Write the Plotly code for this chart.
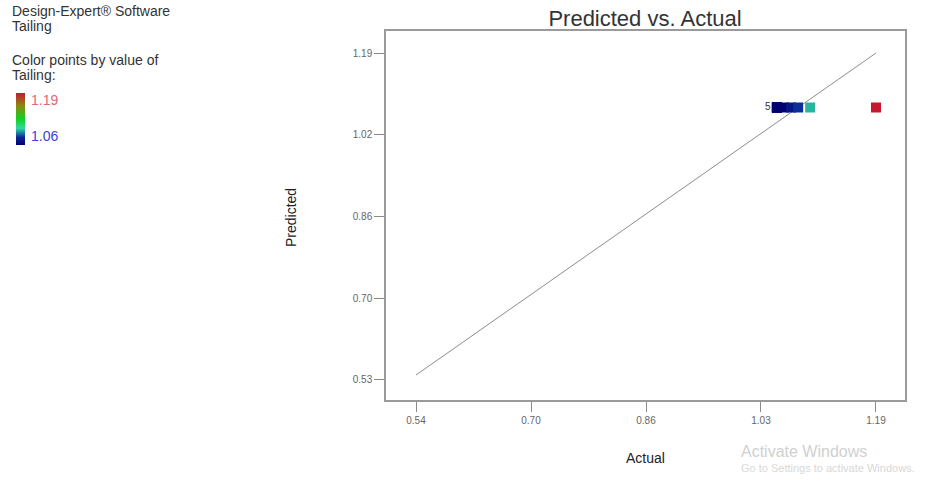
import plotly.graph_objects as go

# Observed vs. model-predicted Tailing
actual = [1.05, 1.05, 1.05, 1.05, 1.05, 1.06, 1.07, 1.08, 1.097, 1.19]
predicted = [1.08, 1.08, 1.08, 1.08, 1.08, 1.08, 1.08, 1.08, 1.08, 1.08]
replicate_count = "5"

x_tick_vals = [0.54, 0.7025, 0.865, 1.0275, 1.19]
x_tick_text = ["0.54", "0.70", "0.86", "1.03", "1.19"]
y_tick_vals = [0.53, 0.695, 0.86, 1.025, 1.19]
y_tick_text = ["0.53", "0.70", "0.86", "1.02", "1.19"]
diag = [0.54, 1.19]
color_min, color_max = 1.06, 1.19

W, H = 929, 481
L, R, T, B = 386, 24, 31, 81
plot_w = W - L - R
plot_h = H - T - B

scale = [
    [0.0, "#00006e"],
    [0.15, "#0a2a9a"],
    [0.32, "#30d8a0"],
    [0.5, "#10d020"],
    [0.75, "#8a8a10"],
    [1.0, "#c81830"],
]

fig = go.Figure()

# reference 1:1 line
fig.add_trace(go.Scatter(
    x=diag, y=diag, mode="lines",
    line=dict(color="#8c8c8c", width=1),
    hoverinfo="skip", showlegend=False,
))

# design points coloured by observed Tailing
fig.add_trace(go.Scatter(
    x=actual, y=predicted, mode="markers",
    marker=dict(
        symbol="square", size=10,
        color=actual, colorscale=scale, cmin=color_min, cmax=color_max,
        line=dict(width=0),
        colorbar=dict(
            thickness=9, lenmode="pixels", len=52, xpad=0, ypad=0,
            x=(16 - L) / plot_w, xanchor="left",
            y=(H - B - 119) / plot_h, yanchor="middle",
            outlinewidth=0, showticklabels=False, ticks="",
        ),
    ),
    showlegend=False,
))

font = "Liberation Sans, Arial, sans-serif"
annotations = [
    dict(text=replicate_count, x=actual[0], y=predicted[0], xanchor="right",
         xshift=-4, yshift=1, showarrow=False,
         font=dict(size=10, color="#333", family=font)),
    dict(text="Actual", x=(645 - L) / plot_w, y=-(468 - (H - B)) / plot_h,
         xref="paper", yref="paper", showarrow=False,
         font=dict(size=14, color="#222", family=font)),
    dict(text="Predicted", x=(281 - L) / plot_w, y=(H - B - 218) / plot_h,
         xref="paper", yref="paper", textangle=-90, showarrow=False,
         font=dict(size=14, color="#222", family=font)),
]

# legend block in the upper-left corner
left_text = [
    ("Design-Expert® Software", 10, 11, "#333", 14),
    ("Tailing", 10, 26, "#333", 14),
    ("Color points by value of", 10, 60, "#333", 14),
    ("Tailing:", 10, 75, "#333", 14),
    ("1.19", 29, 100, "#e06878", 14),
    ("1.06", 29, 136, "#4040e0", 14),
]
for txt, px, py, col, fs in left_text:
    annotations.append(dict(
        text=txt, x=(px - L) / plot_w, y=(H - B - py) / plot_h,
        xref="paper", yref="paper", xanchor="left", yanchor="middle",
        showarrow=False, font=dict(size=fs, color=col, family=font),
    ))

# faint OS watermark text
annotations.append(dict(
    text="Activate Windows", x=(739 - L) / plot_w, y=(H - B - 451) / plot_h,
    xref="paper", yref="paper", xanchor="left", yanchor="middle", showarrow=False,
    font=dict(size=16, color="#d0d0d0", family=font)))
annotations.append(dict(
    text="Go to Settings to activate Windows.", x=(739 - L) / plot_w,
    y=(H - B - 468) / plot_h, xref="paper", yref="paper", xanchor="left",
    yanchor="middle", showarrow=False,
    font=dict(size=11, color="#d8d8d8", family=font)))

axis_common = dict(
    showgrid=False, zeroline=False, showline=True, mirror=True,
    linecolor="#9a9a9a", linewidth=1.5, ticks="outside", ticklen=10,
    tickcolor="#8a8a8a", tickwidth=1, tickfont=dict(size=10, color="#666", family=font),
)

fig.update_layout(
    width=W, height=H,
    margin=dict(l=L, r=R, t=T, b=B),
    paper_bgcolor="white", plot_bgcolor="white",
    font=dict(family=font),
    title=dict(text="Predicted vs. Actual", x=(645 - L) / plot_w, xref="paper",
               xanchor="center", y=1 - 18 / H, yanchor="middle",
               font=dict(size=22, color="#333", family=font)),
    xaxis=dict(range=[0.4976, 1.231], tickvals=x_tick_vals, ticktext=x_tick_text,
               **axis_common),
    yaxis=dict(range=[0.4896, 1.2344], tickvals=y_tick_vals, ticktext=y_tick_text,
               **axis_common),
    annotations=annotations,
)

fig.write_html("out.html")
